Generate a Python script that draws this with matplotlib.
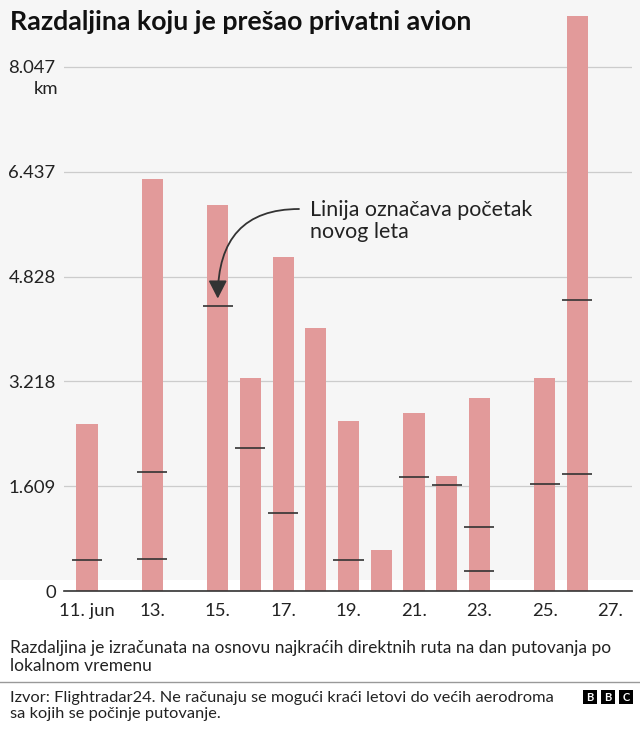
import matplotlib.pyplot as plt
from matplotlib.patches import Rectangle

# distance flown per day (km) and where each new flight starts in the bar
days = [11, 13, 15, 16, 17, 18, 19, 20, 21, 22, 23, 25, 26]
total_km = [2563, 6324, 5925, 3269, 5127, 4037, 2614, 634, 2728, 1765, 2962, 3269, 8826]
flight_starts = [[471], [496, 1831], [4375], [2195], [1202], [], [471], [],
                 [1745], [1627], [302, 982], [1642], [1796, 4467]]

y_ticks = [0, 1609, 3218, 4828, 6437, 8047]
y_labels = ['0', '1.609', '3.218', '4.828', '6.437', '8.047']
x_ticks = [11, 13, 15, 17, 19, 21, 23, 25, 27]
x_labels = ['11. jun', '13.', '15.', '17.', '19.', '21.', '23.', '25.', '27.']

W, H = 640, 729
FONT = 'Lato'
plt.rcParams['font.family'] = [FONT, 'DejaVu Sans']

fig = plt.figure(figsize=(W / 100, H / 100), dpi=100, facecolor='white')
# light grey band behind the title and chart
fig.patches.append(Rectangle((0, (H - 580) / H), 1, 580 / H, transform=fig.transFigure,
                             facecolor='#f6f6f6', edgecolor='none', zorder=-10))

ax = fig.add_axes([64 / W, (H - 591) / H, (632 - 64) / W, (591 - 16) / H])
ax.set_facecolor('none')

ax.bar(days, total_km, width=0.65, color='#e29a9a', zorder=2, clip_on=False)
for d, starts in zip(days, flight_starts):
    if starts:
        ax.hlines(starts, d - 0.46, d + 0.46, color='#333333', lw=1.2, zorder=3)

ax.set_xlim(10.296, 27.673)
ax.set_ylim(0, 8830)
ax.set_yticks(y_ticks)
ax.set_yticklabels(y_labels)
ax.set_xticks(x_ticks)
ax.set_xticklabels(x_labels)
ax.tick_params(axis='both', length=0, labelsize=13.3, colors='#222222')
ax.tick_params(axis='y', pad=6)
ax.tick_params(axis='x', pad=8.5)
ax.grid(axis='y', color='#cccccc', lw=0.9, zorder=1)
ax.grid(axis='x', visible=False)
ax.set_axisbelow(True)
for s in ['top', 'right', 'left']:
    ax.spines[s].set_visible(False)
ax.spines['bottom'].set_color('#333333')
ax.spines['bottom'].set_linewidth(1.2)
ax.spines['bottom'].set_zorder(4)

def px(x, y):
    return x / W, 1 - y / H

fig.text(*px(58, 89), 'km', ha='right', va='center', fontsize=13.3, color='#222222')

# annotation: text plus a curved arrow down to the marker on the 15th
fig.text(*px(310, 221), 'Linija označava početak\nnovog leta', ha='left', va='center',
         fontsize=15.4, color='#222222', linespacing=1.15)
ax.annotate('', xy=(15, 4490), xycoords='data',
            xytext=px(299, 209), textcoords='figure fraction',
            arrowprops=dict(arrowstyle='-|>,head_length=0.55,head_width=0.28',
                            connectionstyle='angle3,angleA=0,angleB=90', color='#333333',
                            lw=1.3, mutation_scale=20, shrinkA=0, shrinkB=0),
            zorder=5)

fig.text(*px(10, 22), 'Razdaljina koju je prešao privatni avion', ha='left', va='center',
         fontsize=19.3, fontweight='bold', color='#111111')

fig.text(*px(10, 657), 'Razdaljina je izračunata na osnovu najkraćih direktnih ruta na dan putovanja po\n'
         'lokalnom vremenu', ha='left', va='center', fontsize=12.5, color='#222222', linespacing=1.2)

fig.add_artist(plt.Line2D([0, 1], [1 - 682 / H] * 2, transform=fig.transFigure,
                          color='#999999', lw=1))

fig.text(*px(10, 706), 'Izvor: Flightradar24. Ne računaju se mogući kraći letovi do većih aerodroma\n'
         'sa kojih se počinje putovanje.', ha='left', va='center', fontsize=11.8,
         color='#222222', linespacing=1.25)

# BBC blocks
for x0, letter in zip([583, 601, 619], 'BBC'):
    fig.patches.append(Rectangle(px(x0, 704), 14 / W, 14 / H, transform=fig.transFigure,
                                 facecolor='black', edgecolor='none'))
    fig.text(*px(x0 + 7, 697.5), letter, ha='center', va='center', fontsize=8,
             fontweight='bold', color='white')

fig.savefig('out.png', dpi=100, facecolor=fig.get_facecolor())
